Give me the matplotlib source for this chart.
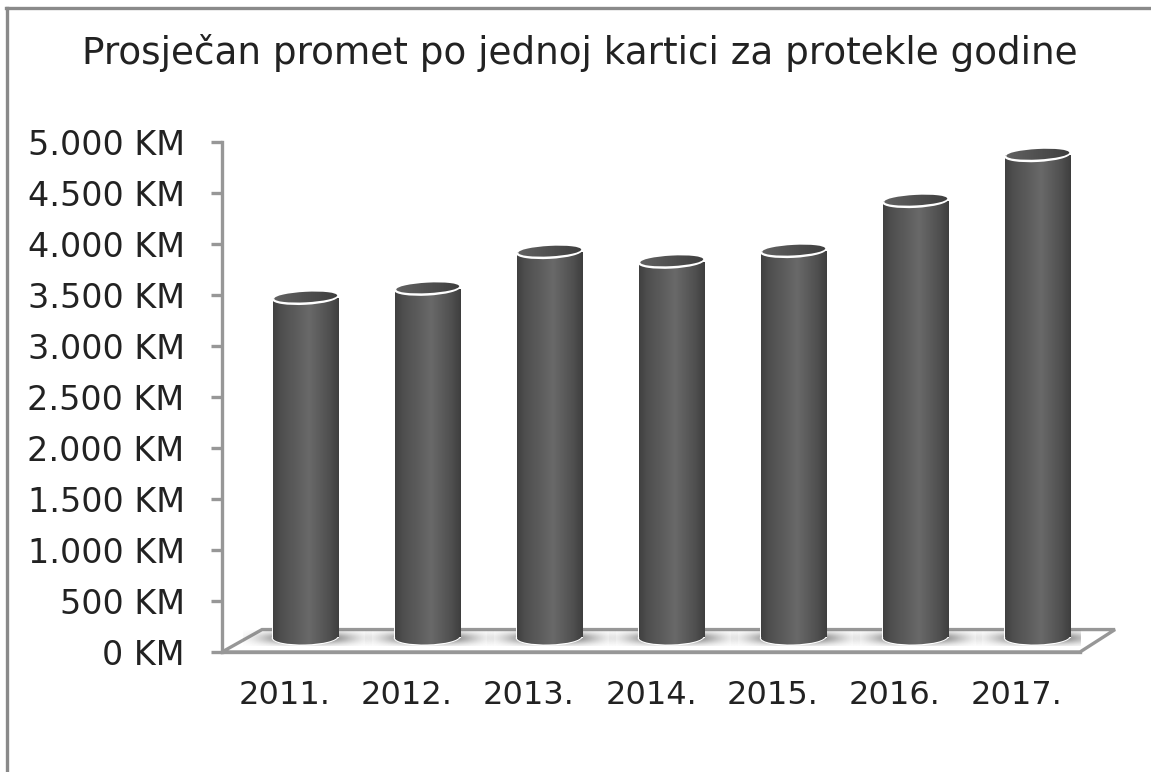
import numpy as np
import matplotlib
matplotlib.use("Agg")
import matplotlib.pyplot as plt
from matplotlib.colors import LinearSegmentedColormap
from matplotlib.lines import Line2D
from matplotlib.patches import Ellipse, Polygon
from matplotlib.transforms import Affine2D

years = ["2011.", "2012.", "2013.", "2014.", "2015.", "2016.", "2017."]
values = [3325, 3415, 3775, 3680, 3785, 4275, 4725]
yticks = [0, 500, 1000, 1500, 2000, 2500, 3000, 3500, 4000, 4500, 5000]
title = "Prosječan promet po jednoj kartici za protekle godine"

W, H = 1151, 772
GREY = "#979797"
TXT = "#222222"
FONT = "DejaVu Sans"
plt.rcParams["font.family"] = [FONT]

fig = plt.figure(figsize=(W / 100, H / 100), dpi=100, facecolor="white")
ax = fig.add_axes([222 / W, (H - 652) / H, 858 / W, 510 / H])
ax.set_facecolor("none")
xlim = (-0.516, 6.516)
ylim = (0, 5000)

# frame
for xs, ys in [((7, 7), (8, H)), ((6, W), (8, 8))]:
    fig.add_artist(Line2D([x / W for x in xs], [1 - y / H for y in ys],
                          color="#8a8a8a", lw=2.4))

# depth of the 3D floor, in axis units
dx_back, dy_back = 35 / 122, 220
dx_bar, y_base = 0.166, 145
bar_w = 65 / 122

# floor
ax.add_patch(Polygon([(xlim[0], 0), (xlim[1], 0), (xlim[1] + dx_back, dy_back),
                      (xlim[0] + 40 / 122, dy_back)], closed=True,
                     facecolor="white", edgecolor=GREY, lw=2.4, clip_on=False,
                     joinstyle="miter", zorder=1))

cyl = LinearSegmentedColormap.from_list("cyl", [
    (0, "#404040"), (0.12, "#4e4e4e"), (0.55, "#696969"), (0.85, "#505050"), (1, "#3e3e3e")])
top = LinearSegmentedColormap.from_list("top", ["#626262", "#505050", "#3e3e3e"])
grad = np.linspace(0, 1, 256)[None, :]

sx, sy = np.meshgrid(np.linspace(-1, 1, 250), np.linspace(-1, 1, 60))
shadow = np.zeros((60, 250, 4))
shadow[..., :3] = 0.4
shadow[..., 3] = np.exp(-(np.abs(sx) / 0.72) ** 3) * np.exp(-(np.abs(sy) / 0.75) ** 2) * 0.85

ax.set_xlim(*xlim)
ax.set_ylim(*ylim)
fig.canvas.draw()

for i, v in enumerate(values):
    xc = i + dx_bar
    x0, x1 = xc - bar_w / 2, xc + bar_w / 2
    # floor shadow
    ax.imshow(shadow, extent=(x0 - 0.24, x1 + 0.28, 55, 205), aspect="auto",
              zorder=2, interpolation="bilinear")
    # bottom cap
    px, py = ax.transData.transform((xc, y_base))
    halo = Ellipse((0, 0), 67, 17, angle=1.5, facecolor="white", edgecolor="none",
                   transform=Affine2D().translate(px, py), zorder=3)
    ax.add_patch(halo)
    cap = Ellipse((0, 0), 64.5, 14.5, angle=1.5, facecolor="none", edgecolor="none",
                  transform=Affine2D().translate(px, py), zorder=4)
    ax.add_patch(cap)
    im = ax.imshow(grad, cmap=cyl, extent=(x0, x1, 0, y_base + 20), aspect="auto", zorder=4)
    im.set_clip_path(cap)
    # body
    bar = ax.bar(xc, v, bottom=y_base, width=bar_w, color="#555555",
                 edgecolor="white", linewidth=1.4, zorder=3)[0]
    im = ax.imshow(grad, cmap=cyl, extent=(x0, x1, y_base, y_base + v), aspect="auto", zorder=4)
    im.set_clip_path(bar)
    # top cap
    px, py = ax.transData.transform((xc, y_base + v))
    t = Affine2D().translate(px, py)
    ax.add_patch(Ellipse((0, 0), 66, 13.5, angle=3, facecolor="white", edgecolor="none",
                         transform=t, zorder=5))
    lid = Ellipse((0.5, 1), 63, 10.5, angle=3, facecolor="none", edgecolor="none",
                  transform=t, zorder=6)
    ax.add_patch(lid)
    im = ax.imshow(grad, cmap=top, extent=(x0, x1, y_base + v - 120, y_base + v + 120),
                   aspect="auto", zorder=6)
    im.set_clip_path(lid)

ax.set_xlim(*xlim)
ax.set_ylim(*ylim)

for s in ("top", "right"):
    ax.spines[s].set_visible(False)
for s in ("left", "bottom"):
    ax.spines[s].set_color(GREY)
    ax.spines[s].set_linewidth(2.4)
    ax.spines[s].set_zorder(2)

ax.set_xticks(range(len(years)), years)
ax.set_yticks(yticks, [f"{y:,}".replace(",", ".") + " KM" for y in yticks])
ax.tick_params(axis="x", length=0, pad=20, labelsize=23, labelcolor=TXT)
ax.tick_params(axis="y", length=8, width=2.4, color=GREY, pad=19, labelsize=24, labelcolor=TXT)

fig.text(580 / W, 1 - 53 / H, title, ha="center", va="center", fontsize=26.9, color=TXT)

fig.savefig("out.png", dpi=100)
